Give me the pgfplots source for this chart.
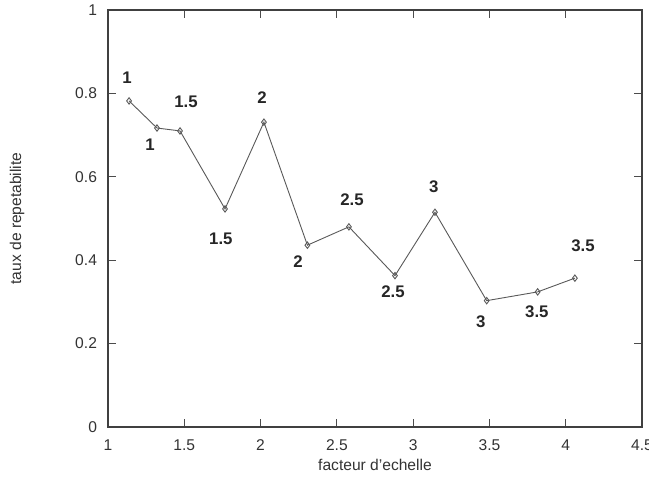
\documentclass[border=0pt]{standalone}
\usepackage{pgfplots}
\pgfplotsset{compat=1.18}
\usepackage{fontspec}
\setmainfont{Liberation Sans}
\begin{document}
\begin{tikzpicture}[font=\fontsize{7.8}{9}\selectfont]
\begin{axis}[
  scale only axis,
  width=267pt, height=208.5pt,
  xmin=1, xmax=4.5, ymin=0, ymax=1,
  xtick={1,1.5,...,4.5}, ytick={0,0.2,...,1},
  yticklabels={0,0.2,0.4,0.6,0.8,1},
  xticklabels={1,1.5,2,2.5,3,3.5,4,4.5},
  tick align=inside,
  major tick length=4pt,
  axis line style={draw=black!75, line width=0.7pt},
  tick style={draw=black!70, line width=0.5pt},
  /pgf/number format/assume math mode=true,
  xticklabel style={yshift=-3pt, text=black!80},
  yticklabel style={xshift=-2pt, text=black!80},
  xlabel={facteur d'echelle},
  ylabel={taux de repetabilite},
  xlabel style={at={(axis description cs:0.5,0)}, anchor=center, yshift=-19pt, text=black!80},
  ylabel style={at={(axis description cs:-0.1704,0.5)}, anchor=center, text=black!80},
]
\addplot[color=black!65, line width=0.45pt, mark=diamond, mark size=1.6pt, mark options={solid, fill=white, draw=black!65}]
coordinates {
(1.138,0.782) (1.321,0.717) (1.472,0.710) (1.767,0.523) (2.022,0.731)
(2.307,0.436) (2.579,0.480) (2.881,0.363) (3.143,0.515) (3.482,0.303)
(3.816,0.324) (4.060,0.357)
};
\begin{scope}[every node/.style={font=\fontsize{8.4}{9}\selectfont\bfseries, text=black!85}]
\node at (axis cs:1.125,0.837) {1};
\node at (axis cs:1.275,0.676) {1};
\node at (axis cs:1.511,0.779) {1.5};
\node at (axis cs:1.740,0.451) {1.5};
\node at (axis cs:2.009,0.791) {2};
\node at (axis cs:2.245,0.396) {2};
\node at (axis cs:2.599,0.544) {2.5};
\node at (axis cs:2.868,0.324) {2.5};
\node at (axis cs:3.136,0.576) {3};
\node at (axis cs:3.444,0.252) {3};
\node at (axis cs:4.113,0.434) {3.5};
\node at (axis cs:3.811,0.276) {3.5};
\end{scope}
\end{axis}
\pgfresetboundingbox
\path ([xshift=-54pt,yshift=-24.5pt]current axis.south west) rectangle ([xshift=3.5pt,yshift=5pt]current axis.north east);
\end{tikzpicture}
\end{document}
